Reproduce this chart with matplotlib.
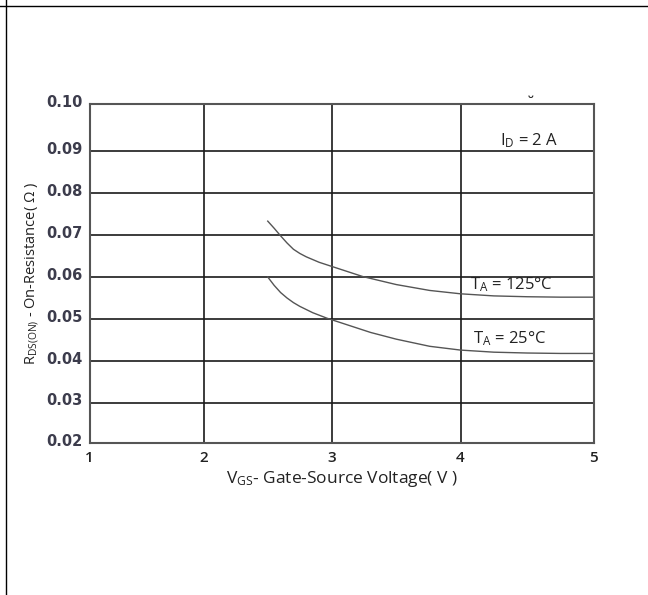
import numpy as np
import matplotlib
matplotlib.use("Agg")
import matplotlib.pyplot as plt
from matplotlib.lines import Line2D
import matplotlib.transforms as mtransforms

vgs_125 = [2.5, 2.55, 2.6, 2.65, 2.7, 2.75, 2.8, 2.9, 3.0, 3.1, 3.24, 3.5, 3.76, 4.0,
           4.25, 4.5, 4.75, 5.0]
rds_125 = [0.0733, 0.0716, 0.0698, 0.0681, 0.0666, 0.0656, 0.0648, 0.0635, 0.0625,
           0.0615, 0.0601, 0.0582, 0.0568, 0.0560, 0.0555, 0.0553, 0.0552, 0.0552]
vgs_25 = [2.5, 2.55, 2.6, 2.65, 2.7, 2.75, 2.85, 2.96, 3.05, 3.14, 3.3, 3.5, 3.76,
          4.0, 4.25, 4.5, 4.75, 5.0]
rds_25 = [0.0600, 0.0580, 0.0563, 0.0550, 0.0539, 0.0530, 0.0515, 0.0502, 0.0493,
          0.0484, 0.0468, 0.0452, 0.0435, 0.0426, 0.0421, 0.0419, 0.0418, 0.0418]

x_ticks = [1, 2, 3, 4, 5]
y_ticks = [0.02, 0.03, 0.04, 0.05, 0.06, 0.07, 0.08, 0.09, 0.10]
y_tick_labels = ["0.02", "0.03", "0.04", "0.05", "0.06", "0.07", "0.08", "0.09", "0.10"]

# the original grid is not evenly spaced, so map each tick to where it sits (pixels)
x_tick_px = [89.5, 203.5, 332, 460.5, 594]
y_tick_px = [-443, -402.5, -361, -319, -277, -235, -193, -151, -104]


def piecewise(src, dst):
    src = np.asarray(src, float)
    dst = np.asarray(dst, float)

    def f(v):
        v = np.asarray(v, float)
        out = np.interp(v, src, dst)
        lo = dst[0] + (v - src[0]) * (dst[1] - dst[0]) / (src[1] - src[0])
        hi = dst[-1] + (v - src[-1]) * (dst[-1] - dst[-2]) / (src[-1] - src[-2])
        out = np.where(v < src[0], lo, out)
        out = np.where(v > src[-1], hi, out)
        return out
    return f


plt.rcParams["mathtext.fontset"] = "custom"
plt.rcParams["mathtext.rm"] = "Open Sans"
plt.rcParams["mathtext.it"] = "Open Sans:italic"
plt.rcParams["mathtext.bf"] = "Open Sans:bold"

fig = plt.figure(figsize=(6.48, 5.95), dpi=100)
ax = fig.add_axes([89.5 / 648, 1 - 443 / 595, (594 - 89.5) / 648, (443 - 104) / 595])

ax.set_xscale("function", functions=(piecewise(x_ticks, x_tick_px), piecewise(x_tick_px, x_ticks)))
ax.set_yscale("function", functions=(piecewise(y_ticks, y_tick_px), piecewise(y_tick_px, y_ticks)))
ax.set_xlim(1, 5)
ax.set_ylim(0.02, 0.10)

ax.plot(vgs_125, rds_125, color="#555555", lw=1.0)
ax.plot(vgs_25, rds_25, color="#555555", lw=1.0)

ax.set_xticks(x_ticks)
ax.set_xticklabels([str(v) for v in x_ticks], family="Open Sans", fontweight="semibold",
                   fontsize=11, color="#222222")
ax.set_yticks(y_ticks)
ax.set_yticklabels(y_tick_labels, family="DejaVu Sans", fontweight="bold", fontsize=10.5, color="#3c3c4c")
ax.tick_params(axis="x", length=0, pad=6)
ax.tick_params(axis="y", length=0, pad=5)
# y labels sit a little above their grid lines in the original
shift = mtransforms.ScaledTranslation(0, 2.5 / 72, fig.dpi_scale_trans)
for lbl in ax.get_yticklabels():
    lbl.set_transform(lbl.get_transform() + shift)

ax.grid(True, color="#1a1a1a", lw=1.2)
for s in ax.spines.values():
    s.set_color("#555555")
    s.set_linewidth(1.5)

ax.set_xlabel("V$_\\mathrm{GS}$- Gate-Source Voltage( V )", family="Open Sans", fontsize=12.5,
              color="#222222", labelpad=2.5)
ax.set_ylabel("R$_\\mathrm{DS(ON)}$ - On-Resistance( Ω )", family=["Open Sans", "DejaVu Sans"],
              fontsize=10.5, color="#222222", labelpad=4)

ax.text(4.51, 0.0923, "I$_\\mathrm{D}$ = 2 A", family="Open Sans", fontsize=12, color="#222222",
        ha="center", va="center")
ax.text(4.38, 0.0581, "T$_\\mathrm{A}$ = 125°C", family="Open Sans", fontsize=12, color="#222222",
        ha="center", va="center")
ax.text(4.37, 0.0454, "T$_\\mathrm{A}$ = 25°C", family="Open Sans", fontsize=12, color="#222222",
        ha="center", va="center")

# leftovers of the page around the chart
fig.text(530 / 648, 1 - 103 / 595, "˘", fontsize=11, fontweight="bold", ha="center", va="center",
         color="#222222")
fig.add_artist(Line2D([0, 1], [1 - 6 / 595, 1 - 6 / 595], color="black", lw=1))
fig.add_artist(Line2D([6 / 648, 6 / 648], [0, 1], color="black", lw=1))

fig.savefig("out.png", dpi=100)
